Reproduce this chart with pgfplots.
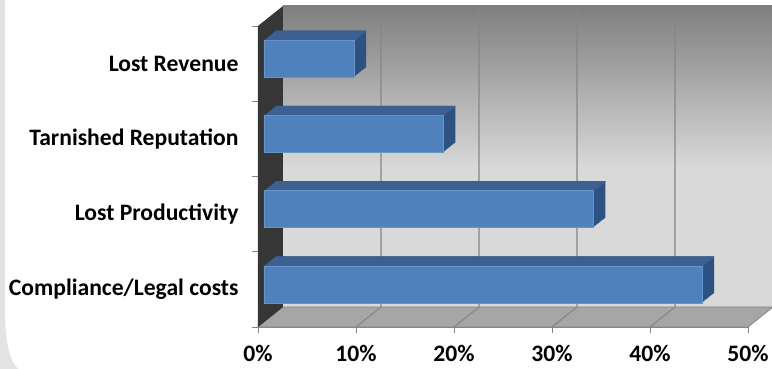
\documentclass[border=0pt]{standalone}
\usepackage{pgfplots}
\pgfplotsset{compat=1.18}
\usepackage{pgfplotstable}
\usepackage{fontspec}
\setmainfont{Carlito}
\definecolor{frontblue}{HTML}{4F81BD}
\definecolor{topblue}{HTML}{3B6091}
\definecolor{sideblue}{HTML}{2E5183}
\definecolor{wall}{HTML}{363636}
\definecolor{floorgray}{HTML}{A6A6A6}
\definecolor{gridgray}{HTML}{868686}
\definecolor{walltop}{HTML}{7F7F7F}
\definecolor{wallbottom}{HTML}{D9D9D9}
\definecolor{framegray}{HTML}{E3E3E3}
\pgfdeclareverticalshading{backwall}{100bp}{color(0bp)=(wallbottom); color(25bp)=(wallbottom); color(48bp)=(wallbottom); color(75bp)=(walltop); color(100bp)=(walltop)}

\pgfplotstableread{
idx value
0 44.7
1 33.6
2 18.3
3 9.2
}\datatable

\begin{document}
\begin{tikzpicture}[x=1pt,y=1pt]
\useasboundingbox (0,0) rectangle (772,369);
\fill[white] (0,0) rectangle (772,369);
\fill[framegray] (0,369) -- (5,369) -- (5,60) .. controls (5,25) and (10,8) .. (18,0) -- (0,0) -- cycle;
\begin{axis}[
  at={(258pt,42pt)}, anchor=south west,
  scale only axis, width=490pt, height=301pt,
  xmin=0, xmax=50, ymin=-0.5, ymax=3.5,
  axis x line=bottom, axis y line=left,
  axis line style={-, draw=gridgray, line width=0.8pt},
  tick align=outside,
  xtick={0,10,...,50},
  xticklabel={\pgfmathprintnumber{\tick}\%},
  xticklabel style={yshift=-9pt},
  ytick={-0.5,0.5,1.5,2.5,3.5}, yticklabels={},
  extra y ticks={0,1,2,3},
  extra y tick labels={Compliance/Legal costs, Lost Productivity, Tarnished Reputation, Lost Revenue},
  extra y tick style={major tick length=0pt, yticklabel style={xshift=-16pt}},
  major tick length=6pt,
  tick style={draw=gridgray, line width=0.8pt},
  tick label style={font=\fontsize{23.6}{28}\selectfont\bfseries},
  /pgf/number format/assume math mode=true,
  clip=false,
]
% back wall
\shade[shading=backwall] ([shift={(25pt,20pt)}]axis cs:0,-0.5) rectangle ([shift={(25pt,20pt)}]axis cs:50,3.5);
% floor
\fill[floorgray, draw=gridgray, line width=0.8pt] (axis cs:0,-0.5) -- (axis cs:50,-0.5) -- ([shift={(25pt,20pt)}]axis cs:50,-0.5) -- ([shift={(25pt,20pt)}]axis cs:0,-0.5) -- cycle;
% left wall
\fill[wall] (axis cs:0,-0.5) -- (axis cs:0,3.5) -- ([shift={(25pt,20pt)}]axis cs:0,3.5) -- ([shift={(25pt,20pt)}]axis cs:0,-0.5) -- cycle;
% gridlines
\pgfplotsinvokeforeach{10,20,30,40}{
  \draw[gridgray, line width=1.1pt] (axis cs:#1,-0.5) -- ([shift={(25pt,20pt)}]axis cs:#1,-0.5) -- ([shift={(25pt,20pt)}]axis cs:#1,3.5);
}
% side faces
\pgfplotsinvokeforeach{1,...,12}{
  \addplot[xbar, bar width=37pt, bar shift={(5+0.8*#1)*1pt}, xshift={(6+#1)*1pt}, fill=sideblue, draw=none] table[x=value,y=idx]{\datatable};
}
% top faces
\pgfplotsinvokeforeach{0,...,12}{
  \addplot[xbar, bar width=1.3pt, bar shift={(5+18.5-0.65+0.8*#1)*1pt}, xshift={(6+#1)*1pt}, fill=topblue, draw=none] table[x=value,y=idx]{\datatable};
}
% front faces
\addplot[xbar, bar width=37pt, bar shift=5pt, xshift=6pt, fill=frontblue, draw=frontblue!85!white, line width=0.6pt] table[x=value,y=idx]{\datatable};
\end{axis}
\end{tikzpicture}
\end{document}
